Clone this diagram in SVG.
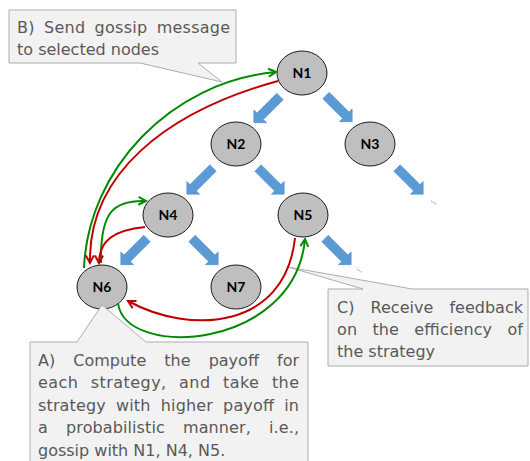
<svg xmlns="http://www.w3.org/2000/svg" width="530" height="461" viewBox="0 0 530 461">
<style>
.call{fill:#f2f2f2;stroke:#adadad;stroke-width:1}
.t{font-family:"DejaVu Sans","Liberation Sans",sans-serif;font-size:16px;fill:#595959}
.node ellipse{fill:#bfbfbf;stroke:#1a1a1a;stroke-width:1}
.node text{font-family:Lato,"Liberation Sans",sans-serif;font-weight:bold;font-size:14px;fill:#000;text-anchor:middle}
.blk{fill:#5b9bd5;stroke:#4f8fcc;stroke-width:0.6}
.g{fill:none;stroke:#008a00;stroke-width:2;marker-end:url(#ag)}
.r{fill:none;stroke:#c00000;stroke-width:2;marker-end:url(#ar)}
.dots{font-family:"DejaVu Sans",sans-serif;font-size:7px;fill:#333}
</style>
<defs>
<path id="blk" d="M0,-4.5 H28 V-9 L37,0 L28,9 V4.5 H0 Z"/>
<marker id="ag" markerUnits="userSpaceOnUse" markerWidth="12" markerHeight="12" refX="8" refY="4.5" orient="auto" overflow="visible">
<path d="M0.5,0.5 L8,4.5 L0.5,8.5" fill="none" stroke="#008a00" stroke-width="2"/>
</marker>
<marker id="ar" markerUnits="userSpaceOnUse" markerWidth="12" markerHeight="12" refX="8" refY="4.5" orient="auto" overflow="visible">
<path d="M0.5,0.5 L8,4.5 L0.5,8.5" fill="none" stroke="#c00000" stroke-width="2"/>
</marker>
</defs>
<rect width="530" height="461" fill="#fff"/>
<g id="callout-B">
<path class="call" d="M9,10 H236 V63 H198 L222,82 L140,63 H9 Z"/>
<text class="t" x="17" y="33" word-spacing="4" textLength="213" lengthAdjust="spacing">B) Send gossip message</text>
<text class="t" x="17" y="55">to selected nodes</text>
</g>
<g id="callout-C">
<path class="call" d="M328,289 H363 L288,267 L412,289 H528 V366 H328 Z"/>
<text class="t" x="337" y="313" word-spacing="11" textLength="186" lengthAdjust="spacing">C) Receive feedback</text>
<text class="t" x="337" y="335" word-spacing="10" textLength="186" lengthAdjust="spacing">on the efficiency of</text>
<text class="t" x="337" y="357">the strategy</text>
</g>
<g id="connectors">
<g id="tree-arrows">
<use href="#blk" class="blk" transform="translate(280,96.5) rotate(135)"/>
<use href="#blk" class="blk" transform="translate(326,95.5) rotate(45)"/>
<use href="#blk" class="blk" transform="translate(213,168) rotate(135)"/>
<use href="#blk" class="blk" transform="translate(258,168) rotate(45)"/>
<use href="#blk" class="blk" transform="translate(397,168) rotate(45)"/>
<use href="#blk" class="blk" transform="translate(147,238.5) rotate(135)"/>
<use href="#blk" class="blk" transform="translate(192,238.5) rotate(45)"/>
<use href="#blk" class="blk" transform="translate(325,238.5) rotate(45)"/>
</g>
<text class="dots" x="430" y="202" transform="rotate(38 432 202)">...</text>
<text class="dots" x="356" y="270" transform="rotate(38 358 270)">...</text>
</g>
<g id="N1" class="node"><ellipse cx="302" cy="73" rx="25" ry="22"/><text x="302" y="78">N1</text></g>
<g id="N2" class="node"><ellipse cx="236" cy="144" rx="25" ry="22"/><text x="236" y="149">N2</text></g>
<g id="N3" class="node"><ellipse cx="370" cy="144" rx="25" ry="22"/><text x="370" y="149">N3</text></g>
<g id="N4" class="node"><ellipse cx="168" cy="215" rx="25" ry="22"/><text x="168" y="220">N4</text></g>
<g id="N5" class="node"><ellipse cx="303" cy="215" rx="25" ry="22"/><text x="303" y="220">N5</text></g>
<g id="N6" class="node"><ellipse cx="102" cy="287" rx="25" ry="22"/><text x="102" y="292">N6</text></g>
<g id="N7" class="node"><ellipse cx="236" cy="287" rx="25" ry="22"/><text x="236" y="292">N7</text></g>
<g id="callout-A">
<path class="call" d="M30,342 H77 L102,305 L146,342 H308 V475 H30 Z"/>
<text class="t" x="38" y="366" word-spacing="13" textLength="261" lengthAdjust="spacing">A) Compute the payoff for</text>
<text class="t" x="38" y="388" word-spacing="7" textLength="261" lengthAdjust="spacing">each strategy, and take the</text>
<text class="t" x="38" y="411" word-spacing="5" textLength="261" lengthAdjust="spacing">strategy with higher payoff in</text>
<text class="t" x="38" y="433" word-spacing="13" textLength="261" lengthAdjust="spacing">a probabilistic manner, i.e.,</text>
<text class="t" x="38" y="456">gossip with N1, N4, N5.</text>
</g>
<g id="gossip-connectors">
<path class="g" d="M84,268 C88,170 170,82 276,72"/>
<path class="r" d="M278,81 C165,112 88,175 90,263"/>
<path class="g" d="M101,263 C100,212 113,200 146,201"/>
<path class="r" d="M145,227 C115,230 99,240 99,263"/>
<path class="r" d="M295,238 C285,330 190,335 128,301"/>
<path class="g" d="M118,303 C125,360 295,350 305,239"/>
</g>
</svg>
